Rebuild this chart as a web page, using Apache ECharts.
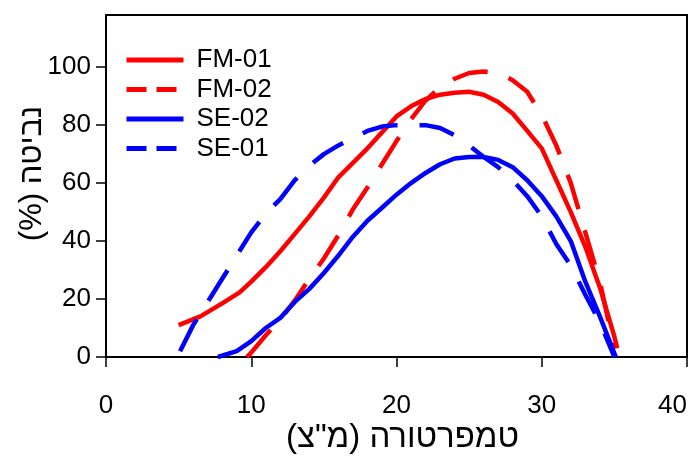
<!DOCTYPE html>
<html>
<head>
<meta charset="utf-8">
<script src="https://cdn.jsdelivr.net/npm/echarts@6/dist/echarts.min.js"></script>
<style>
html,body{margin:0;padding:0;background:#fff;overflow:hidden;}
#chart{width:697px;height:457px;}
</style>
</head>
<body>
<div id="chart"></div>
<script>
// Data: [temperature, germination %]
const fm01 = [[5,11],[6.5,14],[8,18.5],[9.2,22.3],[10,26],[11,31],[12,36.5],[13,42.5],[14,48.5],[15,55],[16,62],[17,67],[18,72],[19,77.5],[20,83],[21,86.5],[22,89],[23,90.5],[24,91.2],[25,91.5],[26,90.5],[27,88],[28,84],[29,78],[30,72],[31,61],[32,50],[33,38],[34,24],[35,7],[35.2,3]];
const fm02 = [[9.7,0],[10,1.5],[11,7.5],[12,13],[13,19.5],[14,27],[15,34],[16,42],[17,51],[18,58.5],[19,66.5],[20,74.5],[21,82],[22,88.5],[23,93],[24,96],[25,98],[26,98.5],[27,98],[28,95.5],[29,91.5],[30,83.5],[31,73],[32,60],[33,43],[34,26],[35,3]];
const se02 = [[7.7,0],[9,2],[10,5.5],[11,10],[12,13.5],[13,19],[14,23.5],[15,29],[16,35],[17,41.5],[18,47],[19,51.5],[20,56],[21,60],[22,63.5],[23,66.5],[24,68.5],[25,69],[26,69],[27,68],[28,65.5],[29,61],[30,55.5],[31,48.5],[32,40],[33,26],[34,14],[35.1,0]];
const se01 = [[5.1,2],[6,11],[6.5,15],[7,19],[8,27],[9,35],[10,43],[11,49.5],[12,54.5],[13,61],[14,66],[15,70],[16,73],[17,75.5],[18,78],[19,79.5],[20,80],[21,80],[22,80],[23,79],[24,76.5],[25,73],[26,69],[27,65.5],[28,61],[29,55.5],[30,48.5],[31,39],[32,31.5],[33,21.5],[34,12],[35,0]];
const seriesNames = ['FM-01','FM-02','SE-02','SE-01'];
const xTicks = [0,10,20,30,40];
const yTicks = [0,20,40,60,80,100];
const xName = 'טמפרטורה (מ"צ)';
const yName = 'נביטה (%)';

const RLM = '\u200F';
const RED = '#ff0000', BLUE = '#0000ff';
const FONT = '"Liberation Sans", Arial, sans-serif';
const chart = echarts.init(document.getElementById('chart'), null, {renderer:'canvas', width:697, height:457});

function mk(name, data, color, dashed){
  return {
    name, type:'line', data, symbol:'none', showSymbol:false, smooth:false,
    lineStyle:{color, width:4.5, type: dashed ? [36,22] : 'solid'},
    itemStyle:{color}
  };
}
const hide = {color:'transparent', borderColor:'transparent', borderWidth:0, opacity:0};
const frameAxis = {
  axisLine:{show:true, onZero:false, lineStyle:{color:'#000', width:2}},
  axisTick:{show:false}, axisLabel:{show:false}, splitLine:{show:false}
};

chart.setOption({
  animation:false,
  backgroundColor:'#fff',
  grid:{left:106, width:581, top:15, height:342, containLabel:false, outerBoundsMode:'none',
        show:true, borderColor:'#000', borderWidth:2, backgroundColor:'transparent'},
  legend:{
    orient:'vertical', left:124, top:47, padding:0, itemWidth:57, itemHeight:14, itemGap:3.5,
    textStyle:{fontSize:26, color:'#000', fontFamily:FONT, padding:[0,0,0,8]},
    data:[
      {name:seriesNames[0], itemStyle:hide, lineStyle:{width:5}},
      {name:seriesNames[1], itemStyle:hide, lineStyle:{width:5, type:[20,10]}},
      {name:seriesNames[2], itemStyle:hide, lineStyle:{width:5}},
      {name:seriesNames[3], itemStyle:hide, lineStyle:{width:5, type:[20,10]}}
    ]
  },
  xAxis:[{
    type:'value', min:xTicks[0], max:xTicks[xTicks.length-1], interval:10,
    name: xName + RLM, nameLocation:'middle', nameGap:64, nameMoveOverlap:false,
    nameTextStyle:{fontSize:33, color:'#000', fontFamily:FONT, padding:[0,0,0,12]},
    axisLine:{onZero:false, lineStyle:{color:'#000', width:2}},
    axisTick:{show:true, length:10, lineStyle:{color:'#000', width:1.5}},
    axisLabel:{fontSize:26, color:'#000', fontFamily:FONT, margin:36, alignMaxLabel:'right'},
    splitLine:{show:false}
  }, Object.assign({type:'value', position:'top', min:xTicks[0], max:xTicks[xTicks.length-1]}, frameAxis)],
  yAxis:[{
    type:'value', min:0, max:118, interval:20,
    name: yName + RLM, nameLocation:'middle', nameGap:58, nameRotate:90, nameMoveOverlap:false,
    nameTextStyle:{fontSize:31, color:'#000', fontFamily:FONT, padding:[0,0,0,25]},
    axisLine:{show:true, onZero:false, lineStyle:{color:'#000', width:2}},
    axisTick:{show:true, length:10, customValues:yTicks, lineStyle:{color:'#000', width:1.5}},
    axisLabel:{fontSize:26, color:'#000', fontFamily:FONT, margin:15, customValues:yTicks},
    splitLine:{show:false}
  }, Object.assign({type:'value', position:'right', min:0, max:118}, frameAxis)],
  series:[
    mk(seriesNames[0], fm01, RED, false),
    mk(seriesNames[1], fm02, RED, true),
    mk(seriesNames[2], se02, BLUE, false),
    mk(seriesNames[3], se01, BLUE, true)
  ]
});
</script>
</body>
</html>
